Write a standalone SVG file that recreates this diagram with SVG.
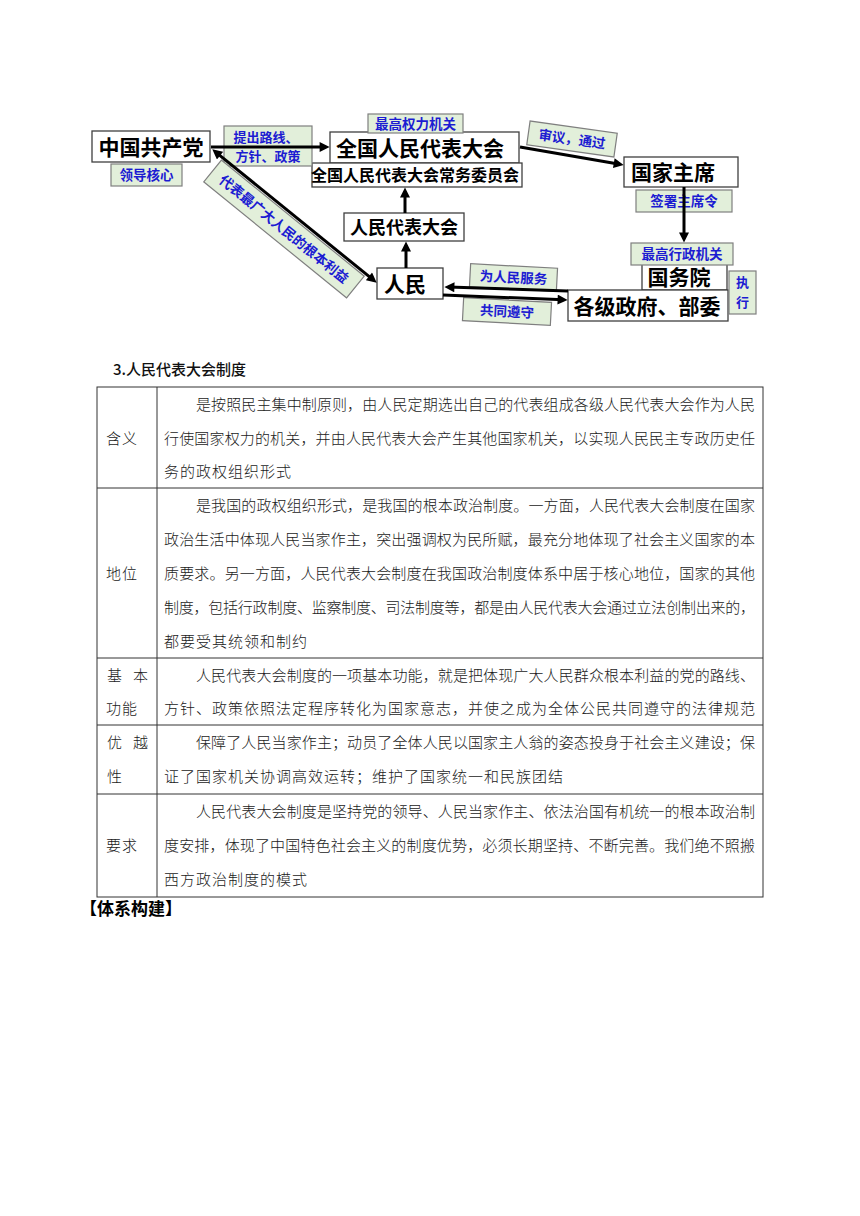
<svg xmlns="http://www.w3.org/2000/svg" width="860" height="1216" viewBox="0 0 860 1216">
<defs>
<style>
.box{fill:#ffffff;stroke:#3f3f3f;stroke-width:1.3}
.lab{fill:#e2efda;stroke:#7f7f7f;stroke-width:1.2}
.nt{font-family:"Noto Sans CJK SC","Noto Sans",sans-serif;font-weight:700;fill:#000;text-anchor:middle}
.lt{font-family:"Noto Sans CJK SC","Noto Sans",sans-serif;font-weight:700;fill:#1c1cd2;font-size:13.5px;text-anchor:middle}
.ln{stroke:#000;stroke-width:3;fill:none}
.arr{marker-end:url(#ah)}
.tb{font-family:"Noto Sans CJK SC","Noto Sans",sans-serif;font-weight:300;fill:#1a1a1a;font-size:15px;letter-spacing:1px}
.grid{stroke:#333;stroke-width:1;fill:none}
</style>
<marker id="ah" viewBox="0 0 10 10" refX="6" refY="5" markerWidth="11" markerHeight="10" markerUnits="userSpaceOnUse" orient="auto-start-reverse">
<path d="M0,0 L10,5 L0,10 z" fill="#000"/>
</marker>
</defs>
<rect width="860" height="1216" fill="#ffffff"/>

<!-- nodes -->
<g id="node-party"><rect class="box" x="92" y="131" width="118" height="31"/><text class="nt" x="151" y="154.5" font-size="21">中国共产党</text></g>
<g id="node-npc"><rect class="box" x="330" y="132" width="189" height="31"/><text class="nt" x="420" y="155.5" font-size="21">全国人民代表大会</text></g>
<g id="node-npcsc"><rect class="box" x="312" y="163" width="210" height="24"/><text class="nt" x="415" y="181" font-size="16">全国人民代表大会常务委员会</text></g>
<g id="node-pc"><rect class="box" x="344" y="213" width="120" height="28"/><text class="nt" x="404" y="233.8" font-size="18">人民代表大会</text></g>
<g id="node-people"><rect class="box" x="377" y="268" width="66" height="31"/><text class="nt" x="405" y="291.5" font-size="21">人民</text></g>
<g id="node-president"><rect class="box" x="624" y="157" width="114" height="30"/><text class="nt" x="673" y="180" font-size="21">国家主席</text></g>
<g id="node-council"><rect class="box" x="642" y="262" width="85" height="28"/><text class="nt" x="679" y="285" font-size="21">国务院</text></g>
<g id="node-gov"><rect class="box" x="568" y="290" width="160" height="31"/><text class="nt" x="647" y="313.5" font-size="21">各级政府、部委</text></g>

<!-- labels -->
<g id="label-core"><rect class="lab" x="111" y="164" width="71" height="22"/><text class="lt" x="146.5" y="180">领导核心</text></g>
<g id="label-line"><rect class="lab" x="224" y="126" width="88" height="40"/><text class="lt" x="266" y="141.5" style="font-size:13px">提出路线、</text><text class="lt" x="268" y="160.5" style="font-size:13px">方针、政策</text></g>
<g id="label-power"><rect class="lab" x="368" y="114" width="95" height="19"/><text class="lt" x="415.5" y="128.5">最高权力机关</text></g>
<g id="label-review"><g transform="rotate(8 572 139)"><rect class="lab" x="528" y="127" width="88" height="24"/><text class="lt" x="572" y="144">审议，通过</text></g></g>
<g id="label-sign"><rect class="lab" x="636" y="190" width="96" height="22"/><text class="lt" x="684" y="206">签署主席令</text></g>
<g id="label-admin"><rect class="lab" x="631" y="243" width="102" height="22"/><text class="lt" x="682" y="259">最高行政机关</text></g>
<g id="label-exec"><rect class="lab" x="729" y="271" width="27" height="43"/><text class="lt" x="742.5" y="287" style="font-size:13px">执</text><text class="lt" x="742.5" y="306.5" style="font-size:13px">行</text></g>
<g id="label-serve"><g transform="rotate(3 513.5 277.5)"><rect class="lab" x="470" y="266" width="87" height="23"/><text class="lt" x="513.5" y="282.5">为人民服务</text></g></g>
<g id="label-obey"><g transform="rotate(3 507 311.5)"><rect class="lab" x="463" y="300" width="88" height="23"/><text class="lt" x="507" y="316.5">共同遵守</text></g></g>
<g id="label-represent"><g transform="rotate(39.1 284 229)"><rect class="lab" x="192" y="215" width="184" height="28"/><text class="lt" x="284" y="234">代表最广大人民的根本利益</text></g></g>

<!-- connectors -->
<g id="connectors">
<line class="ln arr" x1="211" y1="147" x2="325.6" y2="147"/>
<line class="ln arr" x1="520" y1="147" x2="619.7" y2="164.2"/>
<line class="ln arr" x1="684" y1="187" x2="684" y2="238.6"/>
<line class="ln arr" x1="405" y1="213" x2="405" y2="191.4"/>
<line class="ln arr" x1="406" y1="268" x2="406" y2="245.4"/>
<line class="ln arr" x1="215.4" y1="151.8" x2="373.6" y2="280.2" marker-start="url(#ah)"/>
<line class="ln arr" x1="568" y1="291" x2="448.4" y2="287.1"/>
<line class="ln arr" x1="443" y1="295" x2="563.6" y2="299.8"/>
</g>

<!-- section title -->
<text x="113" y="375" font-family="'Noto Sans CJK SC','Noto Sans',sans-serif" font-size="15" font-weight="500" fill="#111">3.人民代表大会制度</text>

<!-- table -->
<g id="table">
<rect class="grid" x="97" y="387" width="666" height="510"/>
<line class="grid" x1="157" y1="387" x2="157" y2="897"/>
<line class="grid" x1="97" y1="488" x2="763" y2="488"/>
<line class="grid" x1="97" y1="658" x2="763" y2="658"/>
<line class="grid" x1="97" y1="725" x2="763" y2="725"/>
<line class="grid" x1="97" y1="794" x2="763" y2="794"/>

<text class="tb" x="106" y="443.7">含义</text>
<text class="tb" x="106" y="578.7">地位</text>
<text class="tb" x="107" y="680.7">基</text><text class="tb" x="133" y="680.7">本</text>
<text class="tb" x="106" y="713.7">功能</text>
<text class="tb" x="107" y="747.7">优</text><text class="tb" x="133" y="747.7">越</text>
<text class="tb" x="107" y="781.7">性</text>
<text class="tb" x="106" y="850.7">要求</text>

<text class="tb" x="196" y="409.7" textLength="560" lengthAdjust="spacing">是按照民主集中制原则，由人民定期选出自己的代表组成各级人民代表大会作为人民</text>
<text class="tb" x="164" y="443.7" textLength="592" lengthAdjust="spacing">行使国家权力的机关，并由人民代表大会产生其他国家机关，以实现人民民主专政历史任</text>
<text class="tb" x="164" y="476.7">务的政权组织形式</text>

<text class="tb" x="196" y="510.7" textLength="560" lengthAdjust="spacing">是我国的政权组织形式，是我国的根本政治制度。一方面，人民代表大会制度在国家</text>
<text class="tb" x="164" y="544.7" textLength="592" lengthAdjust="spacing">政治生活中体现人民当家作主，突出强调权为民所赋，最充分地体现了社会主义国家的本</text>
<text class="tb" x="164" y="578.7" textLength="592" lengthAdjust="spacing">质要求。另一方面，人民代表大会制度在我国政治制度体系中居于核心地位，国家的其他</text>
<text class="tb" x="164" y="612.7" textLength="592" lengthAdjust="spacing">制度，包括行政制度、监察制度、司法制度等，都是由人民代表大会通过立法创制出来的，</text>
<text class="tb" x="164" y="646.7">都要受其统领和制约</text>

<text class="tb" x="196" y="680.7" textLength="560" lengthAdjust="spacing">人民代表大会制度的一项基本功能，就是把体现广大人民群众根本利益的党的路线、</text>
<text class="tb" x="164" y="713.7" textLength="592" lengthAdjust="spacing">方针、政策依照法定程序转化为国家意志，并使之成为全体公民共同遵守的法律规范</text>

<text class="tb" x="196" y="747.7" textLength="560" lengthAdjust="spacing">保障了人民当家作主；动员了全体人民以国家主人翁的姿态投身于社会主义建设；保</text>
<text class="tb" x="164" y="781.7">证了国家机关协调高效运转；维护了国家统一和民族团结</text>

<text class="tb" x="196" y="816.7" textLength="560" lengthAdjust="spacing">人民代表大会制度是坚持党的领导、人民当家作主、依法治国有机统一的根本政治制</text>
<text class="tb" x="164" y="850.7" textLength="592" lengthAdjust="spacing">度安排，体现了中国特色社会主义的制度优势，必须长期坚持、不断完善。我们绝不照搬</text>
<text class="tb" x="164" y="884.7">西方政治制度的模式</text>
</g>

<text x="80" y="914.5" font-family="'Noto Sans CJK SC','Noto Sans',sans-serif" font-size="17" font-weight="700" fill="#000">【体系构建】</text>
</svg>
